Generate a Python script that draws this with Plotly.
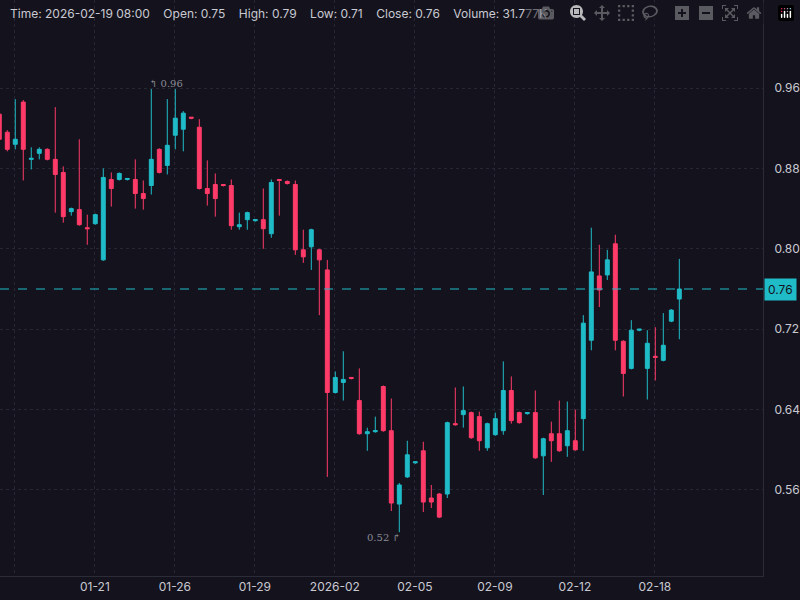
import plotly.graph_objects as go

idx = list(range(86))
opens = [.934, .916, .904, .946, .889, .895, .899, .889, .876, .837, .839, .821, .825, .789, .869, .869, .869, .869, .855, .863,
         .899, .883, .913, .919, .931, .921, .860, .864, .864, .863, .822, .829, .828, .829, .815, .869, .867, .864, .799, .802,
         .799, .779, .657, .667, .672, .649, .616, .618, .663, .619, .546, .573, .587, .599, .552, .556, .556, .626, .635, .637,
         .633, .602, .615, .619, .659, .637, .636, .637, .594, .616, .616, .604, .609, .631, .709, .773, .774, .805, .708, .681,
         .719, .681, .693, .689, .728, .75]
highs = [.936, .918, .949, .948, .901, .901, .900, .941, .882, .841, .909, .834, .835, .880, .876, .876, .870, .889, .868, .959,
         .900, .949, .959, .937, .931, .929, .888, .875, .864, .869, .836, .837, .829, .860, .869, .869, .868, .868, .819, .820,
         .800, .789, .678, .698, .672, .681, .622, .633, .664, .651, .567, .609, .588, .608, .565, .557, .628, .662, .663, .638,
         .638, .627, .637, .688, .673, .638, .637, .659, .612, .628, .649, .648, .640, .734, .821, .804, .799, .814, .709, .729,
         .720, .719, .722, .736, .740, .79]
lows = [.907, .897, .899, .868, .879, .889, .888, .836, .826, .833, .823, .804, .824, .788, .842, .868, .868, .840, .839, .854,
        .875, .874, .899, .897, .929, .859, .843, .832, .862, .819, .819, .819, .827, .800, .811, .833, .864, .794, .786, .779,
        .734, .573, .656, .649, .670, .615, .599, .617, .618, .539, .518, .572, .586, .538, .542, .532, .552, .624, .622, .611,
        .599, .599, .614, .615, .626, .626, .635, .591, .555, .588, .598, .593, .599, .599, .699, .742, .769, .699, .653, .680,
        .718, .650, .669, .688, .727, .71]
closes = [.909, .899, .909, .899, .890, .899, .889, .874, .832, .840, .824, .820, .834, .871, .860, .875, .870, .855, .850, .889,
          .876, .903, .930, .935, .930, .860, .855, .850, .863, .823, .824, .836, .829, .820, .866, .868, .865, .799, .792, .819,
          .789, .657, .672, .670, .671, .616, .618, .619, .619, .547, .565, .595, .588, .548, .548, .533, .627, .625, .639, .612,
          .609, .626, .631, .659, .629, .627, .637, .592, .611, .609, .599, .619, .600, .726, .777, .759, .789, .709, .676, .719,
          .720, .706, .692, .704, .739, .76]
tick_pos = [1.9, 11.95, 21.95, 31.95, 41.95, 51.95, 61.95, 71.95, 81.95]
tick_text = ["01-16", "01-21", "01-26", "01-29", "2026-02", "02-05", "02-09", "02-12", "02-18"]
price_ticks = [0.56, 0.64, 0.72, 0.80, 0.88, 0.96]

up = "#1fbcc8"
down = "#ff3b69"
bg = "#14131d"
grid = "#272634"
txt = "#c9c9d2"

fig = go.Figure(go.Candlestick(
    x=idx, open=opens, high=highs, low=lows, close=closes,
    increasing=dict(line=dict(color=up, width=1), fillcolor=up),
    decreasing=dict(line=dict(color=down, width=1), fillcolor=down),
    whiskerwidth=0, hoverinfo="none", showlegend=False))

last = closes[-1]
fig.add_hline(y=last, line=dict(color=up, width=1, dash="dash"))

hi_i = highs.index(max(highs))
lo_i = lows.index(min(lows))
fig.add_annotation(x=hi_i, y=highs[hi_i], text="↰ %.2f" % highs[hi_i], showarrow=False,
                   xanchor="left", yanchor="bottom", xshift=-4, yshift=-2,
                   font=dict(family="DejaVu Serif", size=10, color="#8a8a96"))
fig.add_annotation(x=lo_i, y=lows[lo_i], text="%.2f ↱" % lows[lo_i], showarrow=False,
                   xanchor="right", yanchor="top", xshift=4, yshift=2,
                   font=dict(family="DejaVu Serif", size=10, color="#8a8a96"))
fig.add_annotation(xref="paper", x=1, y=last, text="%.2f" % last, showarrow=False,
                   xanchor="left", yanchor="middle", bgcolor=up, borderpad=3, xshift=1,
                   font=dict(family="Inter", size=12, color="#14131d"))
fig.add_annotation(xref="paper", yref="paper", x=0, y=1, xshift=8, yshift=-4,
                   text="Time: 2026-02-19 08:00    Open: %.2f    High: %.2f    Low: %.2f    Close: %.2f    Volume: 31.777K"
                        % (opens[-1], highs[-1], lows[-1], closes[-1]),
                   showarrow=False, xanchor="left", yanchor="top",
                   font=dict(family="Inter", size=12, color=txt))

fig.update_layout(
    width=800, height=600, paper_bgcolor=bg, plot_bgcolor=bg,
    margin=dict(l=0, r=37, t=0, b=24),
    font=dict(family="Inter", size=12, color=txt),
    xaxis=dict(range=[0.09, 95.46], rangeslider=dict(visible=False), tickvals=tick_pos, ticktext=tick_text,
               showgrid=True, gridcolor=grid, griddash="dot", zeroline=False,
               showline=True, linecolor="#2c2b38", ticks="", ticklen=0),
    yaxis=dict(range=[0.4744, 1.0476], side="right", tickvals=price_ticks, tickformat=".2f",
               showgrid=True, gridcolor=grid, griddash="dot", zeroline=False,
               showline=True, linecolor="#2c2b38", ticks="", ticklabelstandoff=8),
)

fig.write_html("out.html",
               post_script="document.body.style.margin='0';document.body.style.overflow='hidden';"
                           "document.body.style.background='%s';" % bg)
